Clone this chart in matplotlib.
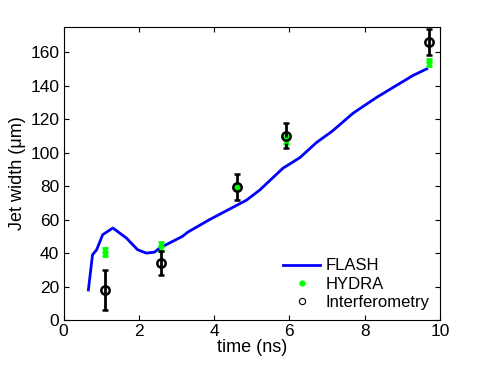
import numpy as np
import matplotlib
matplotlib.use("Agg")
import matplotlib.pyplot as plt
from matplotlib.lines import Line2D

plt.rcParams['font.family'] = ['Liberation Sans', 'DejaVu Sans']

# FLASH simulation curve
flash_t = [0.66, 0.77, 0.88, 1.04, 1.31, 1.67, 1.97, 2.2, 2.42, 2.55, 3.16, 3.3, 3.88,
           4.86, 5.21, 5.83, 6.28, 6.72, 7.15, 7.69, 8.32, 9.28, 9.65]
flash_w = [18, 39, 42, 51, 55, 49, 42, 40, 40.6, 43, 50, 52.5, 60,
           71.6, 77.6, 90.7, 97, 106, 113, 123.5, 133, 146, 150]

# HYDRA points
hydra_t = [1.1, 2.6, 4.6, 5.9, 9.7]
hydra_w = [40.6, 44, 79.5, 107.5, 154]
hydra_err = [2.5, 2.5, 2.0, 2.5, 2.0]

# interferometry measurements
interf_t = [1.1, 2.6, 4.6, 5.9, 9.7]
interf_w = [18, 34, 79.5, 110, 166]
interf_err = [12, 7, 7.5, 7.5, 8]

fs = 12.5

fig = plt.figure(figsize=(4.85, 3.65), dpi=100)
ax = fig.add_axes([0.131, 0.123, 0.776, 0.803])

ax.plot(flash_t, flash_w, color='#0000ff', lw=2, label='FLASH')
ax.errorbar(hydra_t, hydra_w, yerr=hydra_err, fmt='.', color='#00ff00',
            ms=7, elinewidth=2, capsize=2.5, capthick=2, label='HYDRA')
ax.errorbar(interf_t, interf_w, yerr=interf_err, fmt='o', color='black',
            mfc='none', ms=6, mew=1.8, elinewidth=2, capsize=2.5, capthick=2,
            label='Interferometry')

ax.set_xlim(0, 10)
ax.set_ylim(0, 175)
ax.set_xticks(np.arange(0, 11, 2))
ax.set_yticks(np.arange(0, 161, 20))
ax.tick_params(direction='in', top=True, right=True, labelsize=fs, length=3.5, pad=3)
ax.set_xlabel('time (ns)', fontsize=fs + 0.5, labelpad=0)
ax.set_ylabel('Jet width (\u03bcm)', fontsize=fs + 0.5, labelpad=3)

# legend markers without error bars
handles = [Line2D([], [], color='#0000ff', lw=2),
           Line2D([], [], ls='none', marker='.', color='#00ff00', ms=7),
           Line2D([], [], ls='none', marker='o', mfc='none', mec='black', ms=4.5, mew=0.8)]
ax.legend(handles, ['FLASH', 'HYDRA', 'Interferometry'], loc='lower right',
          frameon=False, fontsize=fs - 0.5, handlelength=2.2, borderaxespad=0.2,
          labelspacing=0.2, handletextpad=0.35)

fig.savefig('out.png', dpi=100)
